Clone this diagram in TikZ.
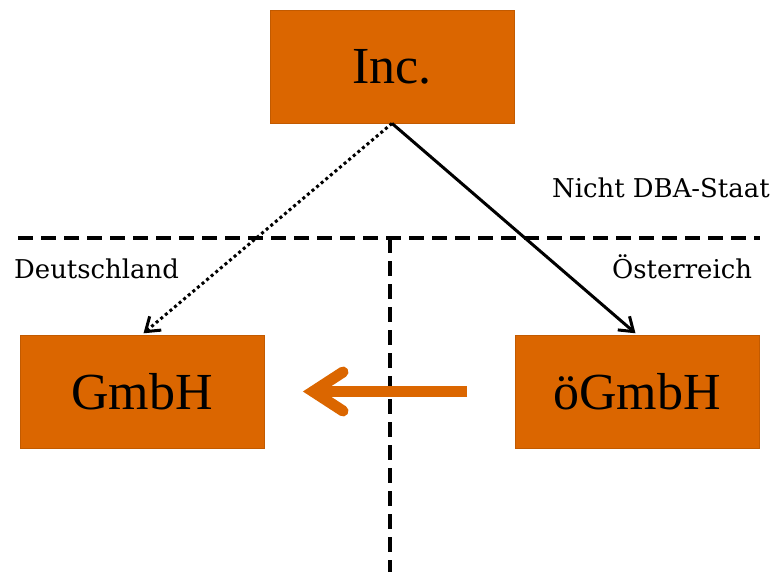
\documentclass[tikz,border=0pt]{standalone}
\usepackage{fontspec}
\setmainfont{Liberation Serif}
\newfontfamily\labelfont{DejaVu Serif}
\usetikzlibrary{arrows.meta}
\definecolor{boxorange}{HTML}{DB6600}
\definecolor{boxedge}{HTML}{C25A00}
\tikzset{
  entity/.style={draw=boxedge, line width=0.8pt, fill=boxorange, minimum width=244pt, minimum height=113pt, inner sep=0pt, font=\fontsize{52}{52}\selectfont},
  region/.style={anchor=base west, inner sep=0pt, font=\labelfont\fontsize{25.9}{26}\selectfont},
  border/.style={line width=3.5pt, dash pattern=on 15pt off 8pt},
  owns/.style={line width=3pt, -{Straight Barb[length=13pt,width=18pt]}, shorten >=2pt},
  indirect/.style={owns, dash pattern=on 3pt off 3pt},
  flow/.style={draw=boxorange, line width=11pt}
}
\begin{document}
\begin{tikzpicture}[x=1pt,y=-1pt]
\useasboundingbox (0,0) rectangle (770,572);
% borders
\coordinate (hl) at (18,238);
\coordinate (hr) at (760,238);
\coordinate (vt) at (390,238);
\coordinate (vb) at (390,572);
\draw[border] (hl) -- (hr);
\draw[border] (vt) -- (vb);
% boxes
\node[entity] (inc) at (392,66.5) {Inc.};
\node[entity] (gmbh) at (142,391.5) {GmbH};
\node[entity] (ogmbh) at (637,391.5) {öGmbH};
% labels
\node[region] (nd) at (552,197) {Nicht DBA-Staat};
\node[region] (de) at (14,278) {Deutschland};
\node[region] (at) at (612,278) {Österreich};
% ownership connectors
\draw[indirect] (inc.south) -- (gmbh.north);
\draw[owns] (inc.south) -- (ogmbh.north);
% orange arrow
\coordinate (fs) at (467,391.5);
\coordinate (fv) at (313,391.5);
\coordinate (fw1) at (343,372);
\coordinate (fw2) at (343,411);
\draw[flow, line cap=butt] (fs) -- (fv);
\draw[flow, line cap=round, line join=miter] (fw1) -- (fv) -- (fw2);
\end{tikzpicture}
\end{document}
